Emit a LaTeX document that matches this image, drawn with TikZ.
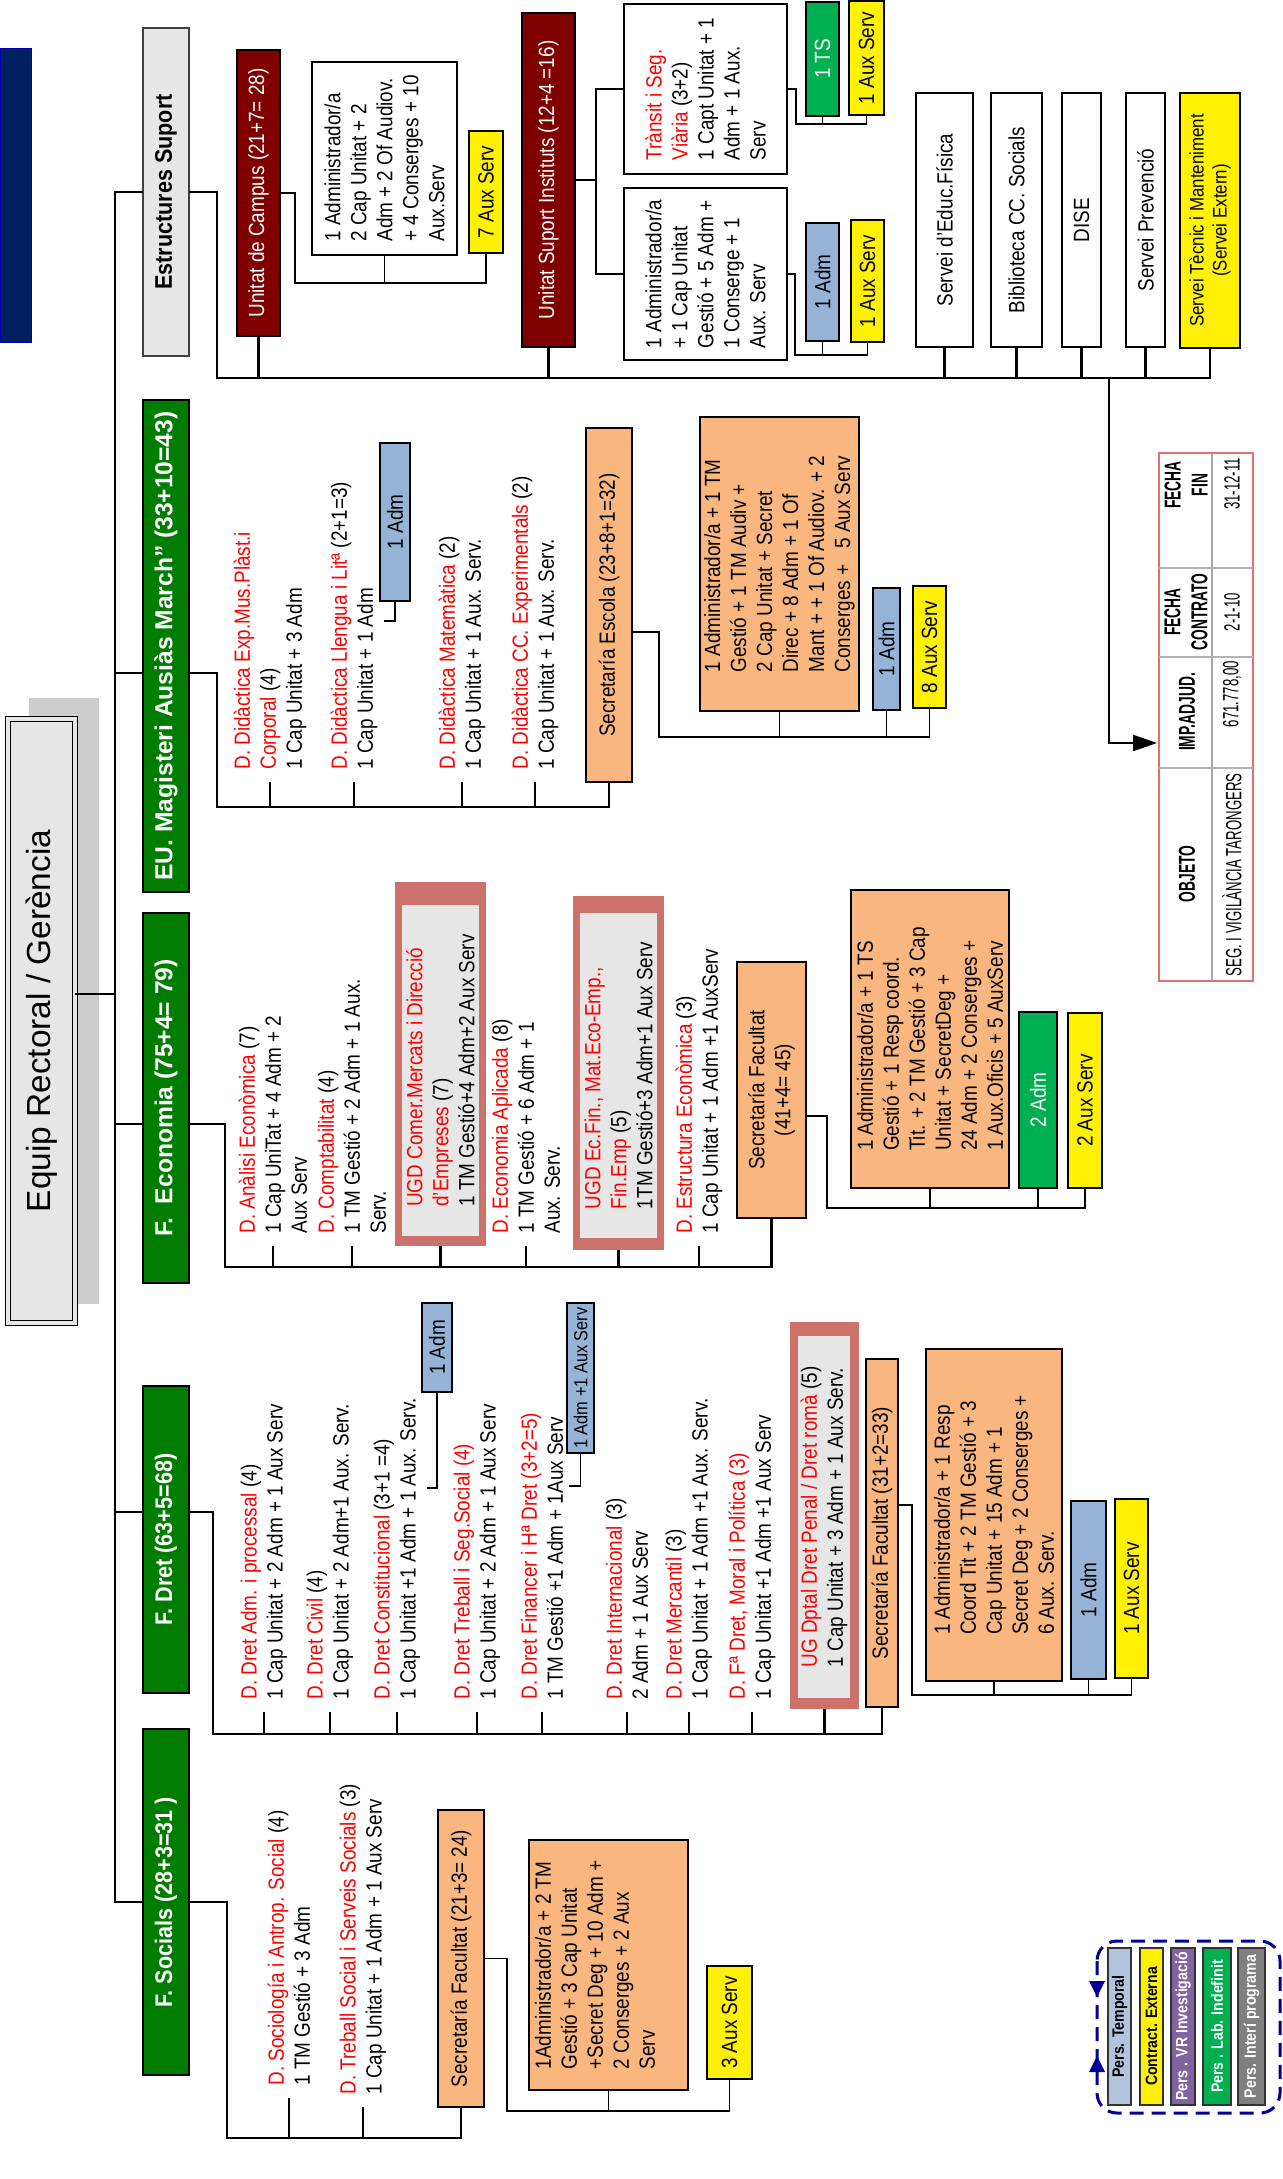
\documentclass[tikz,border=0pt]{standalone}
\usepackage{fontspec}
\setmainfont{Liberation Sans}[FakeStretch=0.86]
\newfontfamily\widefont{Liberation Sans}
\newfontfamily\hdrfont{Liberation Sans}[FakeStretch=0.9]
\newfontfamily\tblfont{Liberation Sans}[FakeStretch=0.6]
\usetikzlibrary{arrows.meta}
\definecolor{navybar}{RGB}{0,32,96}
\definecolor{hdrgreen}{RGB}{0,125,0}
\definecolor{unitred}{RGB}{128,0,0}
\definecolor{lightgray}{RGB}{230,230,230}
\definecolor{shadowgray}{RGB}{204,204,204}
\definecolor{secorange}{RGB}{249,183,127}
\definecolor{admblue}{RGB}{149,179,215}
\definecolor{brightgreen}{RGB}{0,176,80}
\definecolor{ugdred}{RGB}{205,114,106}
\definecolor{tempblue}{RGB}{176,196,222}
\definecolor{vrpurple}{RGB}{128,100,162}
\definecolor{intgray}{RGB}{128,128,128}
\definecolor{legendblue}{RGB}{0,0,150}
\definecolor{tblred}{RGB}{230,110,110}
\definecolor{textred}{RGB}{255,0,0}
\newcommand\fbody{\fontsize{11}{13}\selectfont}
\newcommand\rd[1]{\textcolor{textred}{#1}}
\begin{document}
\begin{tikzpicture}[x=0.5pt, y=-0.5pt,
  bx/.style n args={4}{/utils/exec={%
      \pgfmathsetmacro\bxw{(#4-#2)*0.5}\pgfmathsetmacro\bxh{(#3-#1)*0.5}%
      \pgfmathsetmacro\bxcx{(#1+#3)/2}\pgfmathsetmacro\bxcy{(#2+#4)/2}},
    rotate=90, at={(\bxcx,\bxcy)}, minimum width=\bxw pt, minimum height=\bxh pt,
    inner sep=1pt, outer sep=0pt, font=\fbody, align=center},
  boxline/.style={draw=black, line width=0.9pt},
  hdr/.style={boxline, fill=hdrgreen, text=white, font=\hdrfont\bfseries\fontsize{12}{14}\selectfont},
  hdrwide/.style={boxline, fill=hdrgreen, text=white, font=\widefont\bfseries\fontsize{12.3}{14}\selectfont},
  unit/.style={boxline, fill=unitred, text=white},
  wbox/.style={boxline, fill=white},
  obox/.style={boxline, fill=secorange},
  ybox/.style={boxline, fill=yellow},
  abox/.style={boxline, fill=admblue},
  gbox/.style={boxline, fill=brightgreen, text=white},
  dep/.style={rotate=90, anchor=west, align=left, inner xsep=6pt, inner ysep=0pt, font=\fbody},
  conn/.style={line width=1.1pt},
  sub/.style={line width=0.9pt},
  leg/.style={draw=black!80, line width=0.8pt, font=\bfseries\fontsize{8.2}{10}\selectfont},
  thead/.style={rotate=90, align=center, inner sep=0pt, font=\tblfont\bfseries\fontsize{11.5}{13.5}\selectfont},
  tcell/.style={rotate=90, inner sep=0pt, font=\tblfont\fontsize{11}{12}\selectfont}]

\useasboundingbox (0,0) rectangle (1283,2179);
\fill[white] (0,0) rectangle (1283,2179);

% ---------- left band and top management ----------
\node[bx={0}{48}{31}{342}, fill=navybar, draw=blue!70!black, line width=0.5pt] (bar) {};
\node[bx={29}{698}{99}{1304}, fill=shadowgray] (equipshadow) {};
\node[bx={8}{719}{75}{1323}, draw=black, line width=0.6pt, double=lightgray, double distance=2pt,
      fill=lightgray, font=\widefont\fontsize{16.7}{20}\selectfont] (equip) {Equip Rectoral / Gerència};

% ---------- first level ----------
\node[bx={143}{28}{189}{356}, draw=black!75, line width=1pt, fill=lightgray,
      font=\hdrfont\bfseries\fontsize{12}{14}\selectfont] (es) {Estructures Suport};
\node[bx={143}{400}{189}{892}, hdrwide] (eu) {EU. Magisteri Ausiàs March” (33+10=43)};
\node[bx={143}{913}{189}{1283}, hdrwide] (eco) {F.\ \ Economia (75+4= 79)};
\node[bx={143}{1386}{189}{1693}, hdr] (dret) {F. Dret (63+5=68)};
\node[bx={143}{1729}{189}{2075}, hdr] (soc) {F. Socials (28+3=31 )};

% ---------- Estructures Suport ----------
\node[bx={237}{50}{280}{336}, unit] (ca) {Unitat de Campus (21+7= 28)};
\node[bx={312}{62}{457}{255}, wbox, align=left] (caA) {1 Administrador/a\\2 Cap Unitat + 2\\Adm + 2 Of Audiov.\\+ 4 Conserges + 10\\Aux.Serv};
\node[bx={469}{131}{503}{253}, ybox] (c7) {7 Aux Serv};

\node[bx={522}{13}{575}{347}, unit] (usi) {Unitat Suport Instituts (12+4 =16)};
\node[bx={624}{4}{787}{174}, wbox, align=left] (tr) {\rd{Trànsit i Seg.}\\\rd{Viària} (3+2)\\1 Capt Unitat + 1\\Adm + 1 Aux.\\Serv};
\node[bx={624}{188}{787}{360}, wbox, align=left] (usA) {1 Administrador/a\\+ 1 Cap Unitat\\Gestió + 5 Adm +\\1 Conserge + 1\\Aux. Serv};
\node[bx={806}{2}{839}{116}, gbox] (ts) {1 TS};
\node[bx={849}{1}{884}{115}, ybox] (a1) {1 Aux Serv};
\node[bx={806}{223}{839}{341}, abox] (ad1) {1 Adm};
\node[bx={851}{220}{884}{342}, ybox] (a2) {1 Aux Serv};

\node[bx={916}{93}{973}{347}, wbox] (sef) {Servei d'Educ.Física};
\node[bx={991}{93}{1042}{347}, wbox] (bib) {Biblioteca CC. Socials};
\node[bx={1062}{93}{1101}{347}, wbox] (dise) {DISE};
\node[bx={1126}{93}{1165}{347}, wbox] (prev) {Servei Prevenció};
\node[bx={1180}{93}{1240}{348}, ybox, font=\fontsize{9.8}{11.5}\selectfont] (stm) {Servei Tècnic i Manteniment\\(Servei Extern)};

% ---------- contract table ----------
\node[bx={1159}{453}{1253}{981}, draw=tblred, line width=0.8pt] (tbl) {};
\draw[gray!70, line width=0.8pt] (1212,453) -- (1212,981);
\foreach \yy in {568,657,768} \draw[gray!60, line width=0.8pt] (1159,\yy) -- (1253,\yy);
\node[thead] (th1) at (1187,874) {OBJETO};
\node[thead] (th2) at (1187,712) {IMP.ADJUD.};
\node[thead] (th3) at (1186,612) {FECHA\\CONTRATO};
\node[thead] (th4) at (1186,485) {FECHA\\FIN};
\node[tcell] (td1) at (1232,875) {SEG. I VIGILÀNCIA TARONGERS};
\node[tcell] (td2) at (1232,694) {671.778,00};
\node[tcell] (td3) at (1232,612) {2-1-10};
\node[tcell] (td4) at (1232,484) {31-12-11};

% ---------- EU Magisteri ----------
\node[dep] (e1) at (270,782) {\rd{D. Didàctica Exp.Mus.Plàst.i}\\\rd{Corporal} (4)\\1 Cap Unitat + 3 Adm};
\node[dep] (e2) at (354,782) {\rd{D. Didàctica Llengua i Litª} (2+1=3)\\1 Cap Unitat + 1 Adm};
\node[bx={380}{443}{410}{601}, abox] (ad2) {1 Adm};
\node[dep] (e3) at (462,782) {\rd{D. Didàctica Matemàtica} (2)\\1 Cap Unitat + 1 Aux. Serv.};
\node[dep] (e4) at (535,782) {\rd{D. Didàctica CC. Experimentals} (2)\\1 Cap Unitat + 1 Aux. Serv.};
\node[bx={586}{428}{632}{782}, obox] (sesc) {Secretaría Escola (23+8+1=32)};
\node[bx={700}{417}{859}{711}, obox, align=left] (escA) {1 Administrador/a + 1 TM\\Gestió + 1 TM Audiv +\\2 Cap Unitat + Secret\\Direc + 8 Adm + 1 Of\\Mant + + 1 Of Audiov. + 2\\Conserges +\ \ \ 5 Aux Serv};
\node[bx={873}{588}{900}{710}, abox] (ead) {1 Adm};
\node[bx={913}{586}{946}{708}, ybox] (s8) {8 Aux Serv};

% ---------- F. Economia ----------
\node[dep] (f1) at (273,1246) {\rd{D. Anàlisi Econòmica} (7)\\1 Cap UniTat + 4 Adm + 2\\Aux Serv};
\node[dep] (f2) at (352,1246) {\rd{D. Comptabilitat} (4)\\1 TM Gestió + 2 Adm + 1 Aux.\\Serv.};
\node[bx={395}{882}{486}{1246}, fill=ugdred] (ugd1) {};
\node[bx={402}{905}{479}{1236}, fill=lightgray, align=left] (ugd1in) {\rd{UGD Comer.Mercats i Direcció}\\\rd{d'Empreses} (7)\\1 TM Gestió+4 Adm+2 Aux Serv};
\node[dep] (f3) at (526,1246) {\rd{D. Economia Aplicada} (8)\\1 TM Gestió + 6 Adm + 1\\Aux. Serv.};
\node[bx={573}{896}{664}{1250}, fill=ugdred] (ugd2) {};
\node[bx={580}{913}{657}{1238}, fill=lightgray, align=left] (ugd2in) {\rd{UGD Ec.Fin., Mat.Eco-Emp.,}\\\rd{Fin.Emp} (5)\\1TM Gestió+3 Adm+1 Aux Serv};
\node[dep] (f4) at (699,1246) {\rd{D. Estructura Econòmica} (3)\\1 Cap Unitat + 1 Adm +1 AuxServ};
\node[bx={737}{962}{806}{1218}, obox] (sfe) {Secretaría Facultat\\(41+4= 45)};
\node[bx={851}{890}{1009}{1188}, obox, align=left] (feA) {1 Administrador/a + 1 TS\\Gestió + 1 Resp coord.\\Tit. + 2 TM Gestió + 3 Cap\\Unitat + SecretDeg +\\24 Adm + 2 Conserges +\\1 Aux.Oficis + 5 AuxServ};
\node[bx={1019}{1012}{1057}{1188}, gbox] (fad) {2 Adm};
\node[bx={1068}{1013}{1102}{1188}, ybox] (fa2) {2 Aux Serv};

% ---------- F. Dret ----------
\node[dep] (g1) at (264,1712) {\rd{D. Dret Adm. i processal} (4)\\1 Cap Unitat + 2 Adm + 1 Aux Serv};
\node[dep] (g2) at (330,1712) {\rd{D. Dret Civil} (4)\\1 Cap Unitat + 2 Adm+1 Aux. Serv.};
\node[dep] (g3) at (397,1712) {\rd{D. Dret Constitucional} (3+1 =4)\\1 Cap Unitat +1 Adm + 1 Aux. Serv.};
\node[bx={422}{1303}{452}{1392}, abox] (gad1) {1 Adm};
\node[dep] (g4) at (477,1712) {\rd{D. Dret Treball i Seg.Social (4)}\\1 Cap Unitat + 2 Adm + 1 Aux Serv};
\node[dep] (g5) at (542,1712) {\rd{D. Dret Financer i Hª Dret (3+2=5)}\\1 TM Gestió +1 Adm + 1Aux Serv};
\node[bx={567}{1303}{594}{1453}, abox, font=\fontsize{9.5}{11}\selectfont] (gad2) {1 Adm +1 Aux Serv};
\node[dep] (g6) at (627,1712) {\rd{D. Dret Internacional} (3)\\2 Adm + 1 Aux Serv};
\node[dep] (g7) at (689,1712) {\rd{D. Dret Mercantil} (3)\\1 Cap Unitat + 1 Adm +1 Aux. Serv.};
\node[dep] (g8) at (752,1712) {\rd{D. Fª Dret, Moral i Política (3)}\\1 Cap Unitat +1 Adm +1 Aux Serv};
\node[bx={790}{1322}{859}{1709}, fill=ugdred] (ug3) {};
\node[bx={798}{1336}{850}{1698}, fill=lightgray, align=left] (ug3in) {\rd{UG Dptal Dret Penal / Dret romà} (5)\\1 Cap Unitat + 3 Adm + 1 Aux Serv.};
\node[bx={866}{1359}{898}{1707}, obox] (sfd) {Secretaría Facultat (31+2=33)};
\node[bx={926}{1349}{1062}{1681}, obox, align=left] (fdA) {1 Administrador/a + 1 Resp\\Coord Tit + 2 TM Gestió + 3\\Cap Unitat + 15 Adm + 1\\Secret Deg + 2 Conserges +\\6 Aux. Serv.};
\node[bx={1071}{1501}{1106}{1679}, abox] (dad) {1 Adm};
\node[bx={1115}{1499}{1148}{1678}, ybox] (da1) {1 Aux Serv};

% ---------- F. Socials ----------
\node[dep] (h1) at (289,2098) {\rd{D. Sociología i Antrop. Social} (4)\\1 TM Gestió + 3 Adm};
\node[dep] (h2) at (363,2107) {\rd{D. Treball Social i Serveis Socials} (3)\\1 Cap Unitat + 1 Adm + 1 Aux Serv};
\node[bx={438}{1810}{484}{2107}, obox] (sfs) {Secretaría Facultat (21+3= 24)};
\node[bx={529}{1840}{688}{2090}, obox] (fsA) {};
\node[rotate=90, align=left, font=\fbody] (fsAt) at (595,1965) {1Administrador/a + 2 TM\\Gestió + 3 Cap Unitat\\+Secret Deg + 10 Adm +\\2 Conserges + 2 Aux\\Serv};
\node[bx={707}{1966}{752}{2079}, ybox] (s3) {3 Aux Serv};

% ---------- legend ----------
\draw[legendblue, line width=1.5pt, dash pattern=on 7pt off 4pt, rounded corners=10pt] (1097,1941) rectangle (1280,2113);
\fill[legendblue] (1089,1981) -- (1105,1981) -- (1097,1997) -- cycle;
\fill[legendblue] (1089,2072) -- (1105,2072) -- (1097,2056) -- cycle;
\node[bx={1108}{1948}{1131}{2105}, leg, fill=tempblue] (lg1) {Pers. Temporal};
\node[bx={1140}{1948}{1163}{2105}, leg, fill=yellow] (lg2) {Contract. Externa};
\node[bx={1171}{1948}{1195}{2105}, leg, fill=vrpurple, text=white] (lg3) {Pers . VR Investigació};
\node[bx={1203}{1948}{1231}{2105}, leg, fill=brightgreen, text=white] (lg4) {Pers . Lab. Indefinit};
\node[bx={1238}{1948}{1265}{2105}, leg, fill=intgray, text=white] (lg5) {Pers. Interí programa};

% ---------- connectors ----------
\coordinate (jES) at (115,192);
\coordinate (jEq) at (115,994);
\coordinate (jEU) at (115,673);
\coordinate (jEco) at (115,1124);
\coordinate (jDret) at (115,1512);
\coordinate (jSoc) at (115,1902);
\draw[conn] (es.north) -- (jES) -- (jSoc) -- (soc.north);
\draw[conn] (equip.south |- jEq) -- (jEq);
\draw[conn] (jEU) -- (jEU -| eu.north);
\draw[conn] (jEco) -- (jEco -| eco.north);
\draw[conn] (jDret) -- (jDret -| dret.north);

% support structures
\coordinate (esJ) at (217,378);
\draw[conn] (es.south) -| (esJ) -| (stm.west);
\foreach \n in {ca,usi,sef,bib,dise,prev} \draw[conn] (\n.west) -- (\n.west |- esJ);
\coordinate (arrJ) at (1109,378);
\coordinate (tblIn) at (1157,743);
\draw[conn, -{Triangle[length=12pt, width=8pt]}] (arrJ) |- (tblIn);

\coordinate (caJ) at (295,283);
\draw[sub] (ca.south) -| (caJ) -| (c7.west);
\draw[sub] (caA.west) -- (caA.west |- caJ);

\coordinate (usiJ) at (596,180);
\draw[sub] (usi.south) -- (usiJ);
\draw[sub] (tr.north) -| (usiJ);
\draw[sub] (usA.north) -| (usiJ);
\coordinate (trJ) at (796,124);
\draw[sub] (tr.south) -| (trJ) -| (a1.west);
\draw[sub] (ts.west) -- (ts.west |- trJ);
\coordinate (usJ) at (795,355);
\draw[sub] (usA.south) -| (usJ) -| (a2.west);
\draw[sub] (ad1.west) -- (ad1.west |- usJ);

% EU Magisteri
\coordinate (euJ) at (217,807);
\draw[conn] (jEU -| eu.south) -| (euJ) -| (sesc.west);
\foreach \n in {e1,e2,e3,e4} \draw[conn] (\n.west) -- (\n.west |- euJ);
\draw[sub] (ad2.west) -- ++(0,20) -- ++(-11,0);
\coordinate (escK) at (659,632);
\coordinate (escJ) at (659,737);
\draw[sub] (escK -| sesc.south) -- (escK) -- (escJ) -| (s8.west);
\draw[sub] (escA.west) -- (escA.west |- escJ);
\draw[sub] (ead.west) -- (ead.west |- escJ);

% Economia
\coordinate (ecoJ) at (225,1267);
\draw[conn] (jEco -| eco.south) -| (ecoJ) -| (sfe.west);
\foreach \n in {f1,f2,ugd1,f3,ugd2,f4} \draw[conn] (\n.west) -- (\n.west |- ecoJ);
\coordinate (sfeK) at (827,1116);
\coordinate (sfeJ) at (827,1208);
\draw[sub] (sfeK -| sfe.south) -- (sfeK) -- (sfeJ) -| (fa2.west);
\draw[sub] (feA.west) -- (feA.west |- sfeJ);
\draw[sub] (fad.west) -- (fad.west |- sfeJ);

% Dret
\coordinate (dretJ) at (213,1734);
\draw[conn] (jDret -| dret.south) -| (dretJ) -| (sfd.west);
\foreach \n in {g1,g2,g3,g4,g5,g6,g7,g8,ug3} \draw[conn] (\n.west) -- (\n.west |- dretJ);
\draw[sub] (gad1.west) -- ++(0,96) -- ++(-10,0);
\draw[sub] (gad2.west) -- ++(0,33) -- ++(-12,0);
\coordinate (sfdK) at (912,1505);
\coordinate (sfdJ) at (912,1695);
\draw[sub] (sfdK -| sfd.south) -- (sfdK) -- (sfdJ) -| (da1.west);
\draw[sub] (fdA.west) -- (fdA.west |- sfdJ);
\draw[sub] (dad.west) -- (dad.west |- sfdJ);

% Socials
\coordinate (socJ) at (227,2138);
\draw[conn] (soc.south) -| (socJ) -| (sfs.west);
\foreach \n in {h1,h2} \draw[conn] (\n.west) -- (\n.west |- socJ);
\coordinate (sfsJ) at (507,2111);
\draw[sub] (sfs.south) -| (sfsJ) -| (s3.west);
\draw[sub] (fsA.west) -- (fsA.west |- sfsJ);
\end{tikzpicture}
\end{document}
